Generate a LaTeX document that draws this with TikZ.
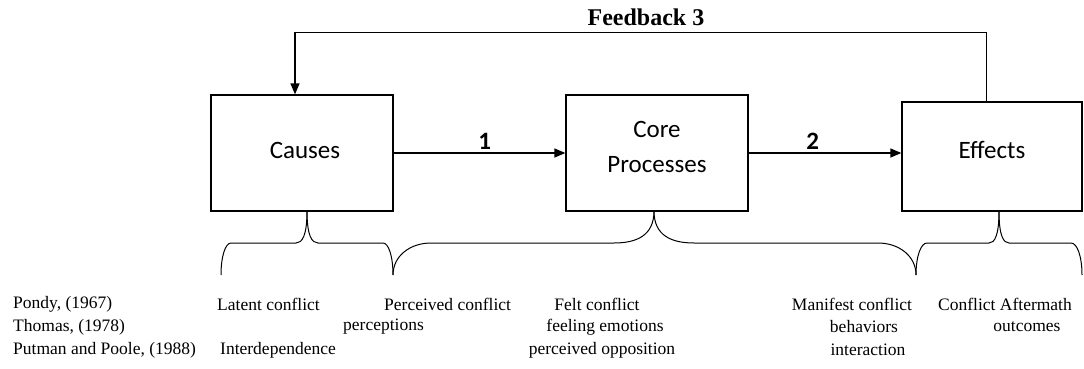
\documentclass[tikz,border=0pt]{standalone}
\usepackage{fontspec}
\setmainfont{Liberation Serif}
\newfontfamily\boxfont{Carlito}
\usetikzlibrary{arrows.meta}

% curly brace: left end, tip, right end, outer radius, inner radius
\newcommand\curlybrace[5]{%
  \draw[bracestyle] (#1,275) .. controls (#1,256) and ({#1+0.45*#4},243) .. ({#1+#4},243)
    -- ({#2-#5},243) .. controls ({#2-0.45*#5},243) and (#2,236) .. (#2,211);
  \draw[bracestyle] (#3,275) .. controls (#3,256) and ({#3-0.45*#4},243) .. ({#3-#4},243)
    -- ({#2+#5},243) .. controls ({#2+0.45*#5},243) and (#2,236) .. (#2,211);}

\begin{document}
\begin{tikzpicture}[x=1pt,y=-1pt,
  stagebox/.style={draw,line width=1.3pt,inner sep=0pt},
  stagetext/.style={align=center,inner sep=0pt,
    font=\boxfont\fontsize{25}{35}\selectfont},
  arr/.style={line width=1.3pt,-{Triangle[length=11pt,width=9pt]}},
  steplabel/.style={font=\boxfont\bfseries\fontsize{25}{28}\selectfont,inner sep=3pt},
  bracestyle/.style={line width=1pt},
  note/.style={font=\fontsize{17.5}{20}\selectfont,inner sep=0pt}]
\useasboundingbox (0,0) rectangle (1084,369);

% the three stages
\node[stagebox,minimum width=182pt,minimum height=116pt,
  label={[stagetext,yshift=3pt,xshift=3pt]center:Causes}] (causes) at (302,153) {};
\node[stagebox,minimum width=182pt,minimum height=116pt,
  label={[stagetext,yshift=6pt]center:Core\\Processes}] (core) at (657,153) {};
\node[stagebox,minimum width=180pt,minimum height=109pt,
  label={[stagetext,yshift=6.5pt]center:Effects}] (effects) at (992,156.5) {};

% forward links
\draw[arr] (causes.east) -- node[steplabel,pos=0.53,above] (l1) {1} (core.west);
\draw[arr] (core.east) -- node[steplabel,pos=0.42,above] (l2) {2} (core.east -| effects.west);

% feedback loop
\draw[arr] ([xshift=-5.5pt]effects.north) -- ++(0,-69) coordinate (fbr)
  -| ([xshift=-7pt]causes.north);
\node[font=\bfseries\fontsize{24}{26}\selectfont,inner sep=0pt] (fb) at (646,17) {Feedback 3};

% braces under the stages
\curlybrace{221}{307}{393}{10}{11}
\curlybrace{393}{654}{916}{38}{40}
\curlybrace{916}{999}{1082}{11}{10}

% authors
\node[note,anchor=west] (pondy) at (13,304) {Pondy, (1967)};
\node[note,anchor=west] (thomas) at (13,327) {Thomas, (1978)};
\node[note,anchor=west] (putman) at (13,350) {Putman and Poole, (1988)};

% stage descriptions
\node[note,anchor=west] (latent) at (217,304) {Latent conflict};
\node[note,anchor=west] (interdep) at (220,350) {Interdependence};
\node[note,anchor=west] (perceived) at (384,304) {Perceived conflict};
\node[note,anchor=west] (perceptions) at (343,327) {perceptions};
\node[note] (felt) at (597,304) {Felt conflict};
\node[note] (feeling) at (605,327) {feeling emotions};
\node[note] (opposition) at (602,350) {perceived opposition};
\node[note] (manifest) at (852,304) {Manifest conflict};
\node[note] (behaviors) at (864,327) {behaviors};
\node[note] (interaction) at (868,350) {interaction};
\node[note] (aftermath) at (1005,304) {Conflict Aftermath};
\node[note] (outcomes) at (1027,327) {outcomes};
\end{tikzpicture}
\end{document}
